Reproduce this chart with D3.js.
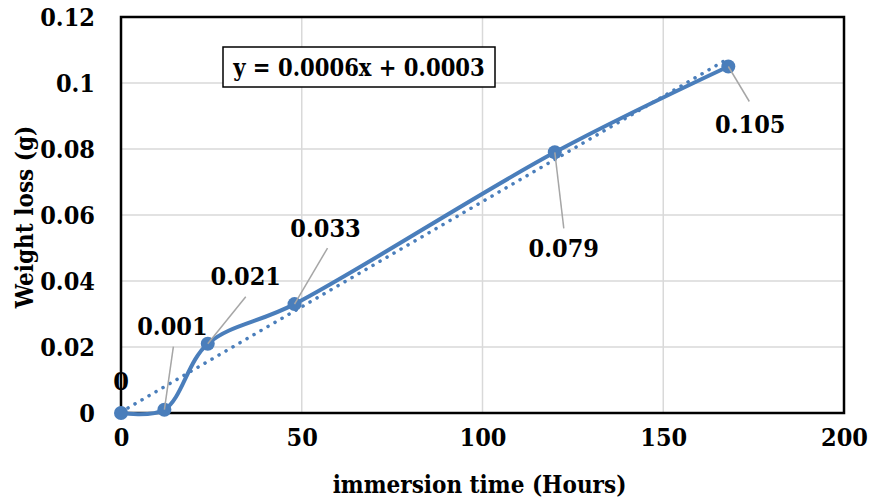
<!DOCTYPE html>
<html><head><meta charset="utf-8">
<script src="https://cdn.jsdelivr.net/npm/d3@7"></script>
<style>
html,body{margin:0;padding:0;background:#fff;}
text{font-family:"DejaVu Serif Condensed","DejaVu Serif",serif;font-stretch:condensed;font-weight:bold;fill:#000;}
</style></head>
<body><svg id="c" width="869" height="500"></svg>
<script>
// Data
const hours = [0, 12, 24, 48, 120, 168];
const weightLoss = [0, 0.001, 0.021, 0.033, 0.079, 0.105];
const dataLabels = ["0", "0.001", "0.021", "0.033", "0.079", "0.105"];
const xTicks = [0, 50, 100, 150, 200];
const yTicks = [0, 0.02, 0.04, 0.06, 0.08, 0.1, 0.12];
const yTickLabels = ["0", "0.02", "0.04", "0.06", "0.08", "0.1", "0.12"];
const equationText = "y = 0.0006x + 0.0003";
const xTitle = "immersion time (Hours)";
const yTitle = "Weight loss (g)";

// Layout for data labels (pixel offsets from the point): label center/baseline and leader end
const labelLayout = [
  {dx: 0, dy: -23, lx: null, ly: null},
  {dx: 8, dy: -75, lx: 9, ly: -63},
  {dx: 38, dy: -59, lx: 38, ly: -47},
  {dx: 31, dy: -67, lx: 33, ly: -56},
  {dx: 9, dy: 105, lx: 9, ly: 76},
  {dx: 22, dy: 66, lx: 21, ly: 35}
];

const FS = 25, FT = 24;
const svg = d3.select("#c");
const L = 121, R = 844, T = 17, B = 413;
const x = d3.scaleLinear().domain([0, 200]).range([L, R]);
const y = d3.scaleLinear().domain([0, 0.12]).range([B, T]);
const blue = "#4a7ebb";

// gridlines
svg.append("g").selectAll("line.h").data(yTicks.slice(1)).join("line")
  .attr("x1", L).attr("x2", R).attr("y1", d => y(d)).attr("y2", d => y(d))
  .attr("stroke", "#d9d9d9").attr("stroke-width", 1.5);
svg.append("g").selectAll("line.v").data(xTicks.slice(1, -1)).join("line")
  .attr("y1", T).attr("y2", B).attr("x1", d => x(d)).attr("x2", d => x(d))
  .attr("stroke", "#d9d9d9").attr("stroke-width", 1.5);

// plot frame
svg.append("rect").attr("x", L).attr("y", T).attr("width", R - L).attr("height", B - T)
  .attr("fill", "none").attr("stroke", "#000").attr("stroke-width", 2.5);

// axes tick labels
const styleText = sel => sel.attr("font-size", FS)
  .style("font-family", '"DejaVu Serif Condensed","DejaVu Serif",serif')
  .style("font-stretch", "condensed").style("font-weight", "bold").attr("fill", "#000");
const xAxis = d3.axisBottom(x).tickValues(xTicks).tickSize(0).tickPadding(15);
const gx = svg.append("g").attr("transform", `translate(0,${B})`).call(xAxis);
gx.select(".domain").remove();
gx.selectAll("text").call(styleText);

const yAxis = d3.axisLeft(y).tickValues(yTicks).tickFormat((d, i) => yTickLabels[i]).tickSize(0).tickPadding(26);
const gy = svg.append("g").attr("transform", `translate(${L},0)`).call(yAxis);
gy.select(".domain").remove();
gy.selectAll("text").call(styleText);

// axis titles
svg.append("text").attr("x", (L + R) / 2 - 3).attr("y", 493).attr("text-anchor", "middle")
  .attr("font-size", FT).text(xTitle);
svg.append("text").attr("transform", `translate(33,${(T + B) / 2 + 2}) rotate(-90)`)
  .attr("text-anchor", "middle").attr("font-size", FT).text(yTitle);

// linear trendline (least squares from the data)
const n = hours.length;
const mx = d3.mean(hours), my = d3.mean(weightLoss);
let sxy = 0, sxx = 0;
for (let i = 0; i < n; i++) { sxy += (hours[i] - mx) * (weightLoss[i] - my); sxx += (hours[i] - mx) ** 2; }
const slope = sxy / sxx, icpt = my - slope * mx;
const x0 = hours[0], x1 = hours[n - 1];
svg.append("line")
  .attr("x1", x(x0)).attr("y1", y(icpt + slope * x0))
  .attr("x2", x(x1)).attr("y2", y(icpt + slope * x1))
  .attr("stroke", blue).attr("stroke-width", 3.5)
  .attr("stroke-dasharray", "0.1 8").attr("stroke-linecap", "round");

// smoothed line
const pts = hours.map((h, i) => [h, weightLoss[i]]);
const line = d3.line().x(d => x(d[0])).y(d => y(d[1])).curve(d3.curveCatmullRom.alpha(0.5));
svg.append("path").datum(pts).attr("d", line).attr("fill", "none")
  .attr("stroke", blue).attr("stroke-width", 4).attr("stroke-linejoin", "round");

// markers
svg.append("g").selectAll("circle").data(pts).join("circle")
  .attr("cx", d => x(d[0])).attr("cy", d => y(d[1])).attr("r", 7).attr("fill", blue);

// leader lines
svg.append("g").selectAll("line").data(pts.filter((d, i) => labelLayout[i].lx !== null))
  .join("line")
  .each(function(d) {
    const i = pts.indexOf(d), o = labelLayout[i];
    d3.select(this).attr("x1", x(d[0])).attr("y1", y(d[1]))
      .attr("x2", x(d[0]) + o.lx).attr("y2", y(d[1]) + o.ly);
  })
  .attr("stroke", "#a6a6a6").attr("stroke-width", 1.5);

// data labels
svg.append("g").selectAll("text").data(pts).join("text")
  .attr("x", (d, i) => x(d[0]) + labelLayout[i].dx)
  .attr("y", (d, i) => y(d[1]) + labelLayout[i].dy)
  .attr("text-anchor", "middle").attr("font-size", FS)
  .text((d, i) => dataLabels[i]);

// equation box
const eq = svg.append("g");
eq.append("rect").attr("x", 223).attr("y", 47).attr("width", 272).attr("height", 40)
  .attr("fill", "#fff").attr("stroke", "#000").attr("stroke-width", 1.5);
eq.append("text").attr("x", 359).attr("y", 75.5).attr("text-anchor", "middle")
  .attr("font-size", 23.5).text(equationText);
</script></body></html>
